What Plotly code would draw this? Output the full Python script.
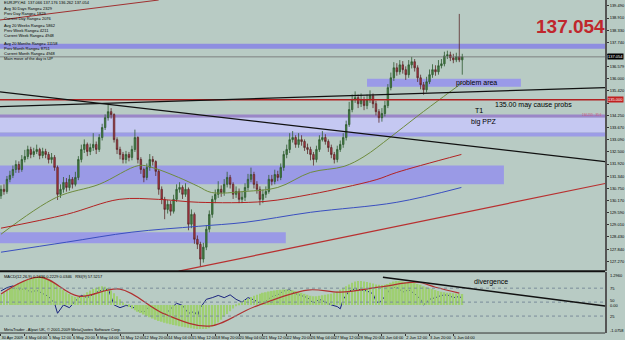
import plotly.graph_objects as go

W, H = 625, 340
def px(x): return x / W
def py(y): return 1 - y / H

# ---------------- data ----------------
bars = list(range(156))
first_open = 130.40
close = [130.71,130.61,131.19,131.38,131.66,131.90,131.66,132.14,132.28,132.62,
132.38,132.52,132.62,132.33,132.52,132.38,132.14,132.24,131.76,130.47,
130.71,131.04,130.80,131.19,130.95,131.28,132.14,132.62,132.86,132.52,
132.71,132.86,132.62,133.19,133.67,134.14,134.43,134.29,133.09,132.62,
132.38,132.14,132.38,132.24,132.62,133.19,132.14,131.66,131.28,131.76,
132.14,132.04,131.57,130.71,130.23,129.75,129.99,129.66,130.23,130.71,
130.80,130.47,130.71,129.04,129.51,128.32,128.08,127.37,127.94,128.80,
129.51,130.23,130.47,130.71,130.56,130.95,131.28,130.95,130.47,130.61,
130.23,130.33,130.80,131.19,131.42,130.95,130.71,130.23,130.47,130.61,
131.19,131.09,131.42,131.28,131.76,132.38,132.62,133.09,133.19,132.86,
133.09,133.00,132.71,132.62,132.38,132.14,132.62,133.09,133.19,133.00,
132.71,132.38,132.14,132.62,132.86,133.19,133.81,134.53,135.00,135.10,
134.81,135.00,134.72,135.00,135.19,134.81,134.43,134.14,134.34,134.72,
135.58,136.05,136.53,136.34,136.67,136.44,136.20,136.67,136.82,136.53,
136.05,135.72,135.48,135.86,136.20,136.44,136.34,136.63,136.72,137.10,
137.15,137.01,136.91,137.06,136.91,137.054]
high = [130.90,130.95,131.35,131.60,131.85,132.10,132.05,132.35,132.60,132.80,
132.75,132.70,132.85,132.70,132.70,132.65,132.50,132.45,132.35,131.85,
130.95,131.30,131.25,131.40,131.30,131.55,132.30,132.85,133.10,132.95,
132.90,133.40,133.00,133.35,133.85,134.30,134.76,134.60,134.35,133.20,
132.75,132.50,132.55,132.50,132.80,133.57,133.25,132.25,131.75,131.95,
132.40,132.30,132.10,131.65,130.85,130.35,130.20,130.15,130.45,130.95,
131.05,130.90,131.00,130.80,129.75,129.60,128.50,128.20,128.15,129.00,
129.70,130.40,130.70,131.10,130.90,131.20,131.55,131.40,131.05,130.85,
130.75,130.60,131.00,131.45,131.75,131.55,131.10,130.85,130.70,130.85,
131.40,131.40,131.65,131.60,131.95,132.55,132.85,133.40,133.50,133.30,
133.40,133.30,133.10,132.90,132.75,132.50,132.80,133.30,133.50,133.35,
133.10,132.85,132.50,132.80,133.05,133.40,134.00,134.90,135.25,135.40,
135.25,135.30,135.15,135.25,135.45,135.30,134.95,134.55,134.60,134.95,
135.75,136.30,136.80,136.75,136.90,136.85,136.60,136.90,137.05,136.95,
136.65,136.20,135.85,136.10,136.45,136.70,136.65,136.90,136.95,137.30,
137.35,137.30,137.20,137.25,139.11,137.20]
low = [130.25,130.45,130.50,131.05,131.25,131.50,131.50,131.55,132.00,132.15,
132.20,132.25,132.40,132.15,132.20,132.20,131.95,131.95,131.60,130.20,
130.30,130.55,130.60,130.65,130.75,130.85,131.15,132.00,132.45,132.30,
132.35,132.55,132.40,132.50,133.05,133.55,134.00,134.10,132.95,132.40,
132.15,131.95,131.95,132.05,132.10,132.50,131.95,131.45,131.05,131.15,
131.60,131.85,131.35,130.45,130.00,129.28,129.55,129.45,129.55,130.10,
130.55,130.25,130.35,128.75,128.85,128.10,127.85,127.03,127.20,127.80,
128.65,129.35,130.05,130.30,130.35,130.40,130.80,130.75,130.25,130.30,
130.05,130.05,130.15,130.65,131.05,130.75,130.50,129.95,130.05,130.30,
130.50,130.90,130.95,131.10,131.15,131.60,132.20,132.45,132.95,132.70,
132.70,132.80,132.55,132.40,132.10,131.85,132.00,132.50,133.00,132.85,
132.50,132.20,131.95,132.00,132.50,132.70,133.05,133.70,134.40,134.85,
134.60,134.65,134.50,134.55,134.85,134.60,134.25,133.90,133.95,134.20,
134.60,135.45,135.90,136.15,136.20,136.25,135.95,136.05,136.50,136.35,
135.85,135.50,135.24,135.35,135.75,136.05,136.15,136.20,136.50,136.60,
136.95,136.85,136.75,136.80,136.80,136.20]
open_ = [first_open] + close[:-1]

# moving averages read at sample bars
ma_green_x = [0, 18.7, 33, 46.3, 50.7, 59.7, 66.3, 70.7, 82, 93, 104, 115.3, 122, 130.7, 139.7, 148.7, 155]
ma_green_y = [128.56, 130.33, 130.95, 131.85, 131.76, 131.28, 130.85, 130.56, 130.61, 130.80, 131.52, 131.81, 132.28, 133.19, 134.19, 135.15, 135.81]
ma_red_x = [0, 22, 39.7, 53, 66.3, 88.7, 104, 115.3, 126.3, 133, 154.7]
ma_red_y = [128.85, 129.51, 130.23, 130.23, 130.09, 130.13, 130.47, 130.80, 131.18, 131.52, 132.38]
ma_blue_x = [0, 22, 44, 66.3, 82, 104, 133, 154.7]
ma_blue_y = [127.70, 128.18, 128.66, 128.94, 129.13, 129.61, 130.09, 130.80]

macd_hist = [0.45,0.52,0.60,0.68,0.76,0.84,0.92,0.98,1.04,1.09,
1.13,1.17,1.20,1.23,1.22,1.18,1.12,1.04,0.95,0.85,
0.74,0.64,0.55,0.47,0.40,0.35,0.35,0.38,0.45,0.55,
0.62,0.68,0.74,0.78,0.80,0.78,0.72,0.62,0.50,0.38,
0.25,0.12,0.02,-0.08,-0.15,-0.22,-0.28,-0.34,-0.40,-0.46,
-0.52,-0.57,-0.62,-0.67,-0.71,-0.75,-0.78,-0.81,-0.84,-0.87,
-0.90,-0.92,-0.94,-0.96,-0.98,-1.00,-1.01,-1.02,-1.02,-1.01,
-0.98,-0.92,-0.84,-0.74,-0.62,-0.50,-0.38,-0.26,-0.14,-0.03,
0.06,0.14,0.22,0.28,0.34,0.40,0.44,0.48,0.52,0.55,
0.58,0.60,0.62,0.64,0.65,0.66,0.66,0.65,0.63,0.60,
0.56,0.52,0.48,0.44,0.40,0.38,0.38,0.40,0.42,0.44,
0.46,0.48,0.52,0.58,0.65,0.72,0.80,0.88,0.95,1.00,
1.02,1.02,1.00,0.98,0.95,0.92,0.88,0.86,0.85,0.86,
0.90,0.95,1.00,1.02,1.02,1.00,0.98,0.97,0.96,0.94,
0.90,0.86,0.80,0.76,0.72,0.68,0.64,0.60,0.57,0.55,
0.53,0.52,0.50,0.49,0.48,0.47]
signal_x = [0, 13, 26, 40, 55, 70, 85, 103, 114, 127, 140, 146, 154]
signal_y = [0.47, 1.19, 0.38, 0.68, -0.38, -0.89, -0.08, 0.64, 0.55, 0.76, 0.97, 0.76, 0.51]

rsi_x = [0,2,4,6,8,10,12,14,16,18,19,21,23,25,27,29,31,33,35,36,38,40,42,44,46,48,50,52,54,55,57,59,61,63,65,66,67,69,71,73,75,77,79,81,83,85,87,89,91,93,95,97,99,101,103,105,107,109,111,113,114,115,117,119,121,123,125,126,127,129,131,133,135,137,139,141,142,144,146,148,150,152,154,155]
rsi_y = [70,76,79,72,74,68,71,66,60,48,30,45,40,52,62,58,64,70,72,74,45,40,44,42,35,32,43,38,30,27,38,48,44,30,33,25,40,55,58,62,58,63,55,50,58,54,48,52,60,63,70,72,65,62,58,48,55,50,45,42,38,55,70,74,72,70,65,52,48,60,75,77,68,72,65,55,45,55,58,62,63,58,60,57]

tick_vals = [139.49,138.91,138.33,137.74,137.16,136.58,136.00,135.42,134.83,134.25,133.67,133.09,132.50,131.92,131.34,130.75,130.17,129.59,129.01,128.43,127.84,127.27]
tick_text = ["139.490","138.910","138.330","137.740","","136.579","136.000","135.420","","134.250","133.670","133.090","132.500","131.920","131.340","130.750","130.170","129.590","129.010","128.430","127.840","127.270"]

date_bars = [0,8,16,24,32,40,48,56,64,72,80,88,96,104,112,120,128,136,144,152]
date_labels = ["30 Apr 2009","4 May 04:00","5 May 12:00","6 May 20:00","8 May 04:00","11 May 12:00",
"12 May 20:00","14 May 04:00","15 May 12:00","18 May 20:00","20 May 04:00","21 May 12:00",
"22 May 20:00","26 May 04:00","27 May 12:00","28 May 20:00","1 Jun 04:00","2 Jun 12:00",
"3 Jun 20:00","5 Jun 04:00"]

info_lines = ["EURJPY,H4  137.066 137.176 136.262 137.054","Avg 30 Days Range= 2329","Prev Day Range= 1829",
"Current Day Range= 2076","Avg 20 Weeks Range= 5862","Prev Week Range= 4211","Current Week Range= 4948",
"Avg 20 Months Range= 11158","Prev Month Range= 8751","Current Month Range= 4948","Main move of the day is UP"]
info_y = [2,8,13,18,25,30,35,43,48,53,58]

last_price = 137.054
FONT = "Liberation Sans, Arial, sans-serif"
BG = "#b8cbc4"
XMAX = 203

fig = go.Figure()
fig.add_trace(go.Candlestick(x=bars, open=open_, high=high, low=low, close=close,
    increasing=dict(line=dict(color="#2f5a30", width=0.8), fillcolor="#467f43"),
    decreasing=dict(line=dict(color="#5a2a2a", width=0.8), fillcolor="#b83444"),
    whiskerwidth=0, xaxis="x", yaxis="y", showlegend=False))
fig.add_trace(go.Scatter(x=ma_green_x, y=ma_green_y, mode="lines", line=dict(color="#6e8b3d", width=1, shape="spline"), xaxis="x", yaxis="y"))
fig.add_trace(go.Scatter(x=ma_red_x, y=ma_red_y, mode="lines", line=dict(color="#b22222", width=1, shape="spline"), xaxis="x", yaxis="y"))
fig.add_trace(go.Scatter(x=ma_blue_x, y=ma_blue_y, mode="lines", line=dict(color="#3a4fc0", width=1, shape="spline"), xaxis="x", yaxis="y"))

fig.add_trace(go.Bar(x=bars, y=macd_hist, marker=dict(color="#9fcf72", line=dict(width=0)), width=0.6, xaxis="x2", yaxis="y3"))
fig.add_trace(go.Scatter(x=signal_x, y=signal_y, mode="lines", line=dict(color="#b03030", width=1.2, shape="spline"), xaxis="x2", yaxis="y3"))
fig.add_trace(go.Scatter(x=rsi_x, y=rsi_y, mode="lines", line=dict(color="#1a237e", width=1), xaxis="x2", yaxis="y2"))

shapes = []
def band(y0, y1, color, x0=None, x1=None):
    if x0 is None:
        shapes.append(dict(type="rect", xref="paper", yref="y", x0=0, x1=610/W, y0=y0, y1=y1, fillcolor=color, line=dict(width=0), layer="below"))
    else:
        shapes.append(dict(type="rect", xref="x", yref="y", x0=x0, x1=x1, y0=y0, y1=y1, fillcolor=color, line=dict(width=0), layer="below"))

band(137.44, 137.68, "#8e8ee0")
band(135.62, 136.00, "#9a9ae8", 123, 174.7)
band(134.14, 134.29, "#9a86c8")
band(133.43, 134.14, "#c5c8f2")
band(133.24, 133.43, "#9c9ce6")
band(130.95, 131.85, "#9a9ae6", -0.33, 169)
band(128.13, 128.65, "#9a9ae6", -0.33, 95.7)

def seg(x0, y0, x1, y1, color, width, xref="x", yref="y", dash="solid"):
    shapes.append(dict(type="line", xref=xref, yref=yref, x0=x0, y0=y0, x1=x1, y1=y1, line=dict(color=color, width=width, dash=dash)))

seg(0, last_price, 610/W, last_price, "#707070", 0.8, xref="paper")
seg(0, 135.00, 610/W, 135.00, "#b02020", 1.5, xref="paper")
seg(-0.33, 135.38, XMAX, 132.04, "#111111", 1.2)
seg(-0.33, 134.67, XMAX, 135.58, "#111111", 1.2)
seg(59.7, 126.79, XMAX, 130.99, "#b83030", 1.2)
seg(-0.33, 138.82, 53, 139.776, "#a03030", 1.0)
# panel separators
seg(0, py(272), 610/W, py(272), "#111111", 2, xref="paper", yref="paper")
seg(0, py(334), 610/W, py(334), "#333333", 1, xref="paper", yref="paper")
for lvl in [75, 50, 25]:
    seg(0, lvl, 610/W, lvl, "#7a8c9a", 1, xref="paper", yref="y2", dash="dot")
# divergence line
seg(px(386), py(278), px(610), py(307), "#111111", 1.5, xref="paper", yref="paper")

ann = []
def text(x, y, t, size=7, color="black", xanchor="center", xref="x", yref="y", bold=False, bg=None):
    d = dict(x=x, y=y, xref=xref, yref=yref, text=("<b>%s</b>" % t) if bold else t, showarrow=False,
             font=dict(family=FONT, size=size, color=color), xanchor=xanchor, yanchor="middle")
    if bg:
        d.update(bgcolor=bg, borderpad=0)
    ann.append(d)

text(159.7, 135.81, "problem area")
text(179, 134.75, "135.00 may cause probs")
text(160.7, 134.48, "T1")
text(162.3, 133.95, "big PPZ")
text(px(495), py(283), "divergence", xref="paper", yref="paper")
text(px(575), py(27), "137.054", size=19, color="#c0272d", xref="paper", yref="paper", bold=True)
text(px(609), 134.27, "134.255 - 35.6", size=3, color="#d05070", xanchor="right", xref="paper")
for t, yy in zip(info_lines, info_y):
    text(px(2), py(yy + 1), t, size=4, xanchor="left", xref="paper", yref="paper")
text(px(612), last_price, "137.054", size=4, color="white", xanchor="left", xref="paper", bg="#000000")
text(px(612), 135.00, "135.000", size=4, color="white", xanchor="left", xref="paper", bg="#c02020")
text(px(2), py(277), "MACD(12,26,9) 0.2436 0.2229 0.0346   RSI(9) 57.5217", size=4, xanchor="left", xref="paper", yref="paper")
text(px(2), py(330), "MetaTrader - Alpari UK, \u00a9 2001-2009 MetaQuotes Software Corp.", size=4, xanchor="left", xref="paper", yref="paper")
for t, yy in [("1.2960", 276), ("75", 289), ("50", 301.5), ("0.00", 306.5), ("25", 317), ("-1.0758", 331)]:
    text(px(613), py(yy), t, size=4, xanchor="left", xref="paper", yref="paper")

fig.update_layout(
    width=W, height=H, margin=dict(l=0, r=0, t=0, b=0),
    paper_bgcolor=BG, plot_bgcolor=BG, showlegend=False, bargap=0.4,
    font=dict(family=FONT, size=4, color="black"),
    xaxis=dict(domain=[0, 610/W], range=[-0.33, XMAX], anchor="y", showticklabels=False, showgrid=False,
               zeroline=False, rangeslider=dict(visible=False), fixedrange=True),
    xaxis2=dict(domain=[0, 610/W], range=[-0.33, XMAX], anchor="y2", matches="x", showgrid=False, zeroline=False,
                tickvals=date_bars, ticktext=date_labels, ticks="outside", ticklen=2, tickcolor="#333",
                tickangle=0, ticklabelposition="outside right", tickfont=dict(size=4, family=FONT), showline=False),
    yaxis=dict(domain=[68/H, 1], range=[126.79, 139.776], side="right", anchor="x", tickvals=tick_vals, ticktext=tick_text,
               tickfont=dict(size=4, family=FONT), ticks="outside", ticklen=2, tickcolor="#333", showline=True,
               linecolor="#555", linewidth=1.5, showgrid=False, zeroline=False),
    yaxis2=dict(domain=[6/H, 67/H], range=[-5.36, 103.6], side="right", anchor="x2", showticklabels=False,
                showline=True, linecolor="#555", linewidth=1.5, showgrid=False, zeroline=False),
    yaxis3=dict(overlaying="y2", range=[-1.186, 1.398], side="right", anchor="x2", visible=False, showgrid=False),
    shapes=shapes, annotations=ann,
)
fig.write_html("out.html")
